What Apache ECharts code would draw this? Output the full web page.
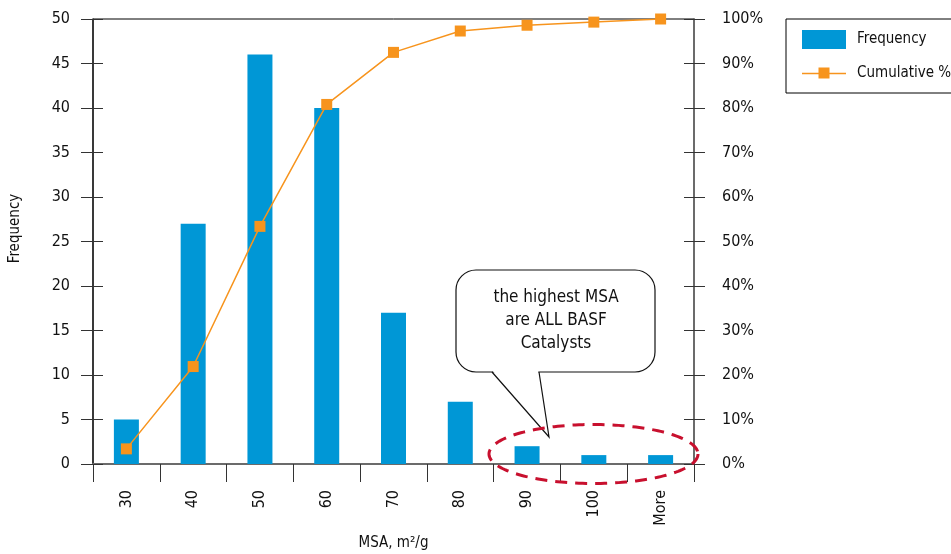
<!DOCTYPE html>
<html>
<head>
<meta charset="utf-8">
<script src="https://cdn.jsdelivr.net/npm/echarts@6/dist/echarts.min.js"></script>
<style>
  html, body { margin: 0; padding: 0; background: #fff; }
  #chart { width: 951px; height: 554px; }
</style>
</head>
<body>
<div id="chart"></div>
<script>
// MSA histogram: bin labels, counts per bin and running cumulative share
const categories = ['30', '40', '50', '60', '70', '80', '90', '100', 'More'];
const frequency = [5, 27, 46, 40, 17, 7, 2, 1, 1];
const cumulativePct = [3.4, 21.9, 53.4, 80.8, 92.5, 97.3, 98.6, 99.3, 100];
const freqTicks = { min: 0, max: 50, interval: 5 };
const pctTicks = { min: 0, max: 100, interval: 10 };
const calloutLines = ['the highest MSA', 'are ALL BASF', 'Catalysts'];

const FONT = '"Liberation Sans Narrow", "DejaVu Sans Condensed", "Roboto Condensed", sans-serif';
const BLUE = '#0097d6';
const ORANGE = '#f7941d';

// legend glyph for the cumulative line: thin stroke with a square in the middle
// (two tiny corner specks pin the icon's box to 44 x 19)
const LINE_ICON = 'path://M0,0 h0.05 v0.05 h-0.05 Z M43.95,18.95 h0.05 v0.05 h-0.05 Z ' +
  'M0,8.8 H16.5 V3.5 H27.5 V8.8 H44 V10.2 H27.5 V14.5 H16.5 V10.2 H0 Z';

const chart = echarts.init(document.getElementById('chart'), null, { renderer: 'canvas' });

const labelStyle = { color: '#111', fontFamily: FONT, fontSize: 16 };

const option = {
  backgroundColor: '#fff',
  animation: false,
  textStyle: { fontFamily: FONT },
  grid: {
    left: 93, right: 257, top: 19, bottom: 90,
    outerBoundsMode: 'none',
    containLabel: false,
    show: true, borderColor: '#000', borderWidth: 1, backgroundColor: 'transparent'
  },
  legend: {
    orient: 'vertical',
    left: 786, top: 19,
    padding: [11, 12, 10, 16],
    itemGap: 15,
    itemWidth: 44, itemHeight: 19,
    borderColor: '#000', borderWidth: 1,
    backgroundColor: '#fff',
    textStyle: { color: '#111', fontFamily: FONT, fontSize: 15, padding: [0, 0, 0, 6] },
    data: [
      { name: 'Frequency', icon: 'rect' },
      { name: 'Cumulative %', icon: LINE_ICON }
    ]
  },
  xAxis: [{
    type: 'category',
    data: categories,
    boundaryGap: true,
    axisLine: { show: true, lineStyle: { color: '#6b6b6b', width: 2 } },
    axisTick: { show: true, length: 18, lineStyle: { color: '#333', width: 1 } },
    axisLabel: Object.assign({ rotate: 90, margin: 26 }, labelStyle),
    name: 'MSA, m²/g',
    nameLocation: 'middle',
    nameGap: 72,
    nameTextStyle: { color: '#111', fontFamily: FONT, fontSize: 15 },
    splitLine: { show: false }
  }],
  yAxis: [
    {
      type: 'value', position: 'left',
      min: freqTicks.min, max: freqTicks.max, interval: freqTicks.interval,
      axisLine: { show: true, lineStyle: { color: '#222', width: 1.5 } },
      axisTick: { show: true, length: 12, lineStyle: { color: '#333' } },
      axisLabel: Object.assign({ margin: 23 }, labelStyle),
      splitLine: { show: false },
      name: 'Frequency',
      nameLocation: 'middle',
      nameGap: 70,
      nameRotate: 90,
      nameTextStyle: { color: '#111', fontFamily: FONT, fontSize: 15, padding: [0, 0, 0, 26] }
    },
    {
      type: 'value', position: 'right',
      min: pctTicks.min, max: pctTicks.max, interval: pctTicks.interval,
      axisLine: { show: true, lineStyle: { color: '#6b6b6b', width: 2 } },
      axisTick: { show: true, length: 11, lineStyle: { color: '#333' } },
      axisLabel: Object.assign({ margin: 28, formatter: '{value}%' }, labelStyle),
      splitLine: { show: false }
    },
    // inner halves of the crossing tick marks
    {
      type: 'value', position: 'left',
      min: freqTicks.min, max: freqTicks.max, interval: freqTicks.interval,
      axisLine: { show: false },
      axisTick: { show: true, inside: true, length: 10, lineStyle: { color: '#333' } },
      axisLabel: { show: false },
      splitLine: { show: false }
    },
    {
      type: 'value', position: 'right',
      min: pctTicks.min, max: pctTicks.max, interval: pctTicks.interval,
      axisLine: { show: false },
      axisTick: { show: true, inside: true, length: 10, lineStyle: { color: '#333' } },
      axisLabel: { show: false },
      splitLine: { show: false }
    }
  ],
  series: [
    {
      name: 'Frequency',
      type: 'bar',
      yAxisIndex: 0,
      data: frequency,
      barWidth: 25,
      itemStyle: { color: BLUE },
      z: 2
    },
    {
      name: 'Cumulative %',
      type: 'line',
      yAxisIndex: 1,
      data: cumulativePct,
      symbol: 'rect',
      symbolSize: 11,
      lineStyle: { color: ORANGE, width: 1.5 },
      itemStyle: { color: ORANGE },
      z: 3
    }
  ]
};

chart.setOption(option);

// Dashed ring around the three highest bins, traced as a closed polygon
function ellipsePoints(cx, cy, rx, ry, n) {
  const pts = [];
  for (let i = 0; i < n; i++) {
    const t = (i / n) * Math.PI * 2;
    pts.push([cx + rx * Math.cos(t), cy + ry * Math.sin(t)]);
  }
  return pts;
}

// Speech bubble: rounded box, white tail and its two outline edges
const box = { x: 456, y: 270, w: 199, h: 102, r: 20 };
const tail = { a: 492, b: 539, tip: [549, 437] };

chart.setOption({
  graphic: [
    {
      type: 'rect',
      shape: { x: box.x, y: box.y, width: box.w, height: box.h, r: box.r },
      style: { fill: '#fff', stroke: '#111', lineWidth: 1.2 },
      z: 10
    },
    {
      type: 'polygon',
      shape: { points: [[tail.a + 0.8, box.y + box.h - 1], [tail.b - 0.8, box.y + box.h - 1], tail.tip] },
      style: { fill: '#fff', stroke: null },
      z: 11
    },
    {
      type: 'polyline',
      shape: { points: [[tail.a, box.y + box.h], tail.tip, [tail.b, box.y + box.h]] },
      style: { fill: null, stroke: '#111', lineWidth: 1.2 },
      z: 11
    },
    {
      type: 'text',
      x: 556, y: 286,
      style: {
        text: calloutLines.join('\n'),
        align: 'center',
        verticalAlign: 'top',
        fill: '#111',
        font: '17px ' + FONT,
        lineHeight: 23
      },
      z: 12
    },
    {
      type: 'polygon',
      shape: { points: ellipsePoints(593.5, 454, 104.5, 29.5, 180) },
      style: { fill: null, stroke: '#c8102e', lineWidth: 3, lineDash: [12, 8] },
      z: 13
    }
  ]
});
</script>
</body>
</html>
